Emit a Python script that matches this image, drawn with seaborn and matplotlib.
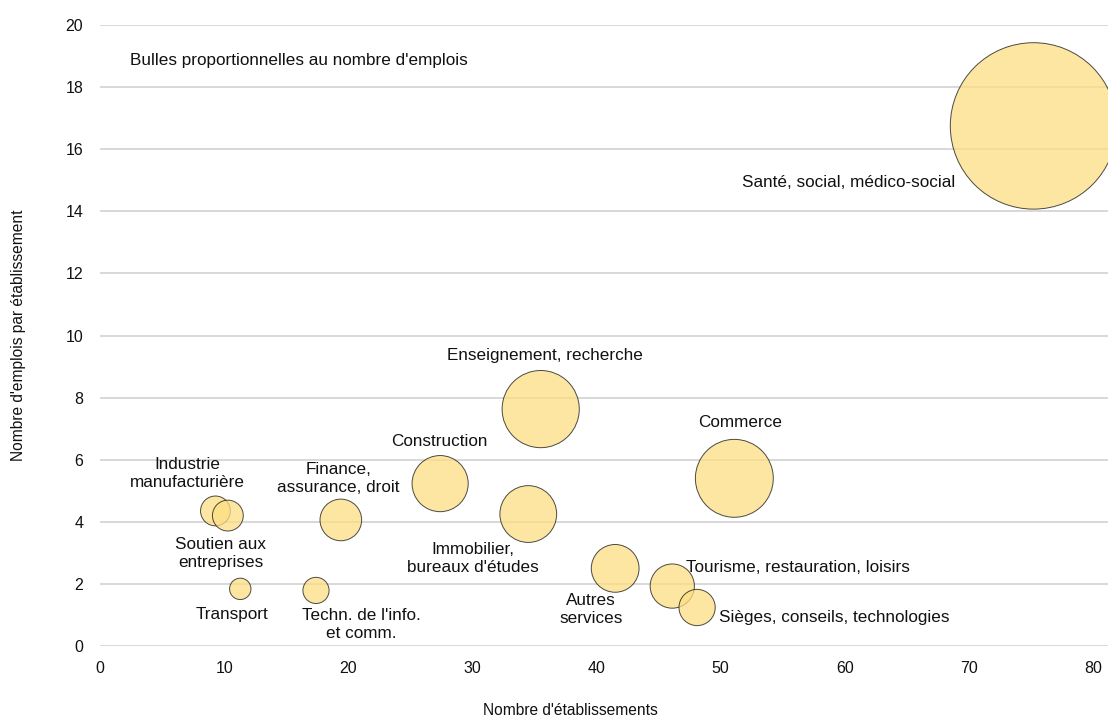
import matplotlib
matplotlib.use("Agg")
import matplotlib.pyplot as plt
import seaborn as sns
import pandas as pd

# secteurs d'activité
secteurs = [
    "Santé, social, médico-social",
    "Enseignement, recherche",
    "Commerce",
    "Construction",
    "Immobilier, bureaux d'études",
    "Autres services",
    "Finance, assurance, droit",
    "Industrie manufacturière",
    "Soutien aux entreprises",
    "Tourisme, restauration, loisirs",
    "Sièges, conseils, technologies",
    "Transport",
    "Techn. de l'info. et comm.",
]
nb_etablissements = [75.2, 35.5, 51.1, 27.4, 34.5, 41.5, 19.4, 9.3, 10.3, 46.1, 48.1, 11.3, 17.4]
emplois_par_etab = [16.75, 7.63, 5.40, 5.23, 4.25, 2.50, 4.06, 4.35, 4.20, 1.93, 1.24, 1.84, 1.79]

# libellés affichés sur le graphique (texte, x, y, alignement)
libelles = [
    ("Santé, social, médico-social", 60.3, 14.94, "center"),
    ("Enseignement, recherche", 35.85, 9.37, "center"),
    ("Commerce", 51.57, 7.19, "center"),
    ("Construction", 27.3, 6.58, "center"),
    ("Immobilier,\nbureaux d'études", 30.06, 2.82, "center"),
    ("Autres\nservices", 39.56, 1.19, "center"),
    ("Finance,\nassurance, droit", 19.2, 5.41, "center"),
    ("Industrie\nmanufacturière", 7.04, 5.57, "center"),
    ("Soutien aux\nentreprises", 9.74, 2.98, "center"),
    ("Tourisme, restauration, loisirs", 47.19, 2.52, "left"),
    ("Sièges, conseils, technologies", 49.88, 0.91, "left"),
    ("Transport", 10.64, 1.02, "center"),
    ("Techn. de l'info.\net comm.", 21.07, 0.69, "center"),
]

df = pd.DataFrame({
    "secteur": secteurs,
    "etab": nb_etablissements,
    "emplois_etab": emplois_par_etab,
})
df["emplois"] = df["etab"] * df["emplois_etab"]

sns.set_theme(style="white")
plt.rcParams["font.family"] = ["Liberation Sans", "DejaVu Sans"]

fig = plt.figure(figsize=(11.08, 7.22), dpi=100)
ax = fig.add_axes([100 / 1108, 76 / 722, 1008 / 1108, 621 / 722])

smax = df["emplois"].max()
sns.scatterplot(
    data=df, x="etab", y="emplois_etab", size="emplois",
    sizes=(0, 11.4 * smax), size_norm=(0, smax),
    color="#fcde83", alpha=0.75, edgecolor="#111111", linewidth=0.7,
    legend=False, ax=ax, clip_on=False, zorder=3,
)

for txt, x, y, ha in libelles:
    ax.text(x, y, txt, ha=ha, va="center", fontsize=12.3, color="#111111",
            linespacing=1.25, zorder=4)

ax.text(2.4, 18.87, "Bulles proportionnelles au nombre d'emplois", ha="left",
        va="center", fontsize=12.3, color="#111111")

ax.set_xlim(0, 81.2)
ax.set_ylim(0, 20)
ax.set_xticks(range(0, 81, 10))
ax.set_yticks(range(0, 21, 2))
ax.grid(axis="y", color="#d6d6d6", linewidth=1.3, zorder=0)
ax.grid(axis="x", color="white", linewidth=1.0, zorder=1)
ax.set_axisbelow(True)
sns.despine(ax=ax, left=True, bottom=True)
ax.tick_params(axis="both", length=0, labelsize=11.5, colors="#111111")
ax.tick_params(axis="y", pad=12)
ax.tick_params(axis="x", pad=11)

ax.set_xlabel("Nombre d'établissements", fontsize=11.2, color="#111111")
ax.set_ylabel("Nombre d'emplois par établissement", fontsize=11.2, color="#111111")
ax.xaxis.set_label_coords((570 - 100) / 1008, -(703 - 646) / 621)
ax.yaxis.set_label_coords(-(100 - 26) / 1008, 0.5)

fig.savefig("out.png", dpi=100)
